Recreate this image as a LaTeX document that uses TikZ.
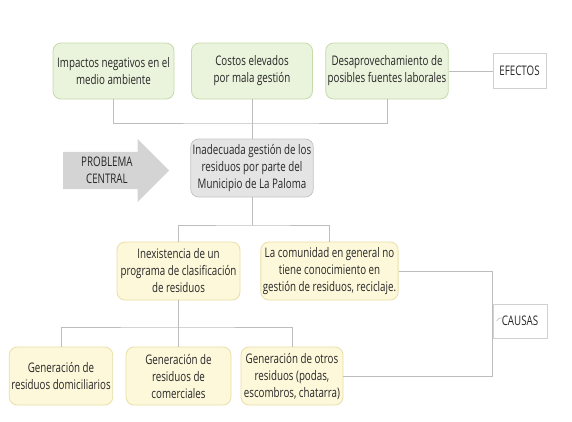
\documentclass[tikz,border=0pt]{standalone}
\usepackage{fontspec}
\setmainfont[FakeStretch=0.74]{Open Sans}
\usetikzlibrary{shapes.arrows}
\definecolor{verde}{HTML}{EAF3DC}
\definecolor{verdeborde}{HTML}{C6DAAA}
\definecolor{amarillo}{HTML}{FDF8DA}
\definecolor{amarilloborde}{HTML}{E8DEA6}
\definecolor{gris}{HTML}{E4E4E4}
\definecolor{grisborde}{HTML}{C6C6C6}
\definecolor{flecha}{HTML}{D4D4D4}
\definecolor{linea}{HTML}{BDBDBD}
\definecolor{texto}{HTML}{262626}
\begin{document}
\begin{tikzpicture}[x=1pt, y=-1pt,
  every node/.style={font=\fontsize{13.2}{17}\selectfont, text=texto, align=center},
  caja/.style={draw, rounded corners=8pt, line width=0.8pt, inner sep=2pt},
  efecto/.style={caja, fill=verde, draw=verdeborde, minimum width=121pt, minimum height=56pt},
  causa/.style={caja, fill=amarillo, draw=amarilloborde, minimum height=58pt},
  central/.style={caja, fill=gris, draw=grisborde, minimum width=120pt, minimum height=58pt},
  etiqueta/.style={draw=linea!70, fill=white, line width=0.8pt, inner sep=2pt},
  conector/.style={draw=linea, line width=1pt}]
\useasboundingbox (0,0) rectangle (572,421);
% efectos
\node[efecto] (imp) at (113.5,71) {Impactos negativos en el\\medio ambiente};
\node[efecto] (cost) at (252,71) {Costos elevados\\por mala gesti\'on};
\node[efecto] (desa) at (387,71) {Desaprovechamiento de\\posibles fuentes laborales};
\node[etiqueta, minimum width=53pt, minimum height=35pt] (efec) at (519.5,71) {EFECTOS};
% problema central
\node[single arrow, fill=flecha, single arrow head extend=13pt, single arrow head indent=0pt,
  minimum height=106pt, inner ysep=5pt, inner xsep=9pt, anchor=tail] (prob) at (63,170.5) {PROBLEMA\\CENTRAL};
\node[central] (centr) at (252,168) {Inadecuada gesti\'on de los\\residuos por parte del\\Municipio de La Paloma};
% causas
\node[causa, minimum width=123pt] (inex) at (178.5,271) {Inexistencia de un\\programa de clasificaci\'on\\de residuos};
\node[causa, minimum width=137pt] (comu) at (329.5,271) {La comunidad en general no\\tiene conocimiento en\\gesti\'on de residuos, reciclaje.};
\node[causa, minimum width=102pt] (dom) at (61,376) {Generaci\'on de\\residuos domiciliarios};
\node[causa, minimum width=105pt] (com) at (178.5,376) {Generaci\'on de\\residuos de\\comerciales};
\node[causa, minimum width=102pt] (otr) at (292,376) {Generaci\'on de otros\\residuos (podas,\\escombros, chatarra)};
\node[etiqueta, minimum width=54pt, minimum height=34pt] (causas) at (520,321) {CAUSAS};
% conectores
\coordinate (efe) at (252,123);
\coordinate (cau) at (252,225);
\coordinate (gen) at (178.5,327);
\draw[conector] (imp.south) |- (efe) -| (desa.south);
\draw[conector] (cost.south) -- (centr.north);
\draw[conector] (desa.east) -- (efec.west);
\draw[conector] (centr.south) -- (cau);
\draw[conector] (inex.north) |- (cau) -| (comu.north);
\draw[conector] (inex.south) -- (com.north);
\draw[conector] (dom.north) |- (gen) -| (otr.north);
\draw[conector] (comu.east) -- (comu.east -| causas.west) -- (otr.east -| causas.west) -- (otr.east);
\draw[conector, line width=0.6pt] ([xshift=4pt]causas.west) .. controls +(2,-3) .. +(7,-3);
\end{tikzpicture}
\end{document}
